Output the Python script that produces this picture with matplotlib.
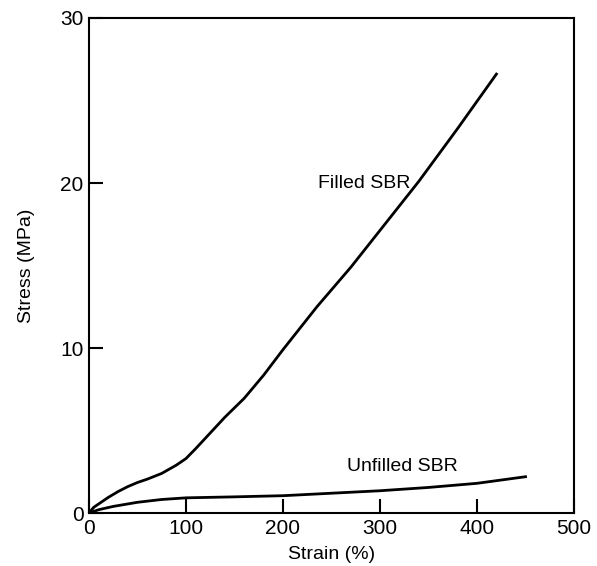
import matplotlib.pyplot as plt

plt.rcParams['font.family'] = ['Liberation Sans', 'DejaVu Sans']

# filled SBR stress-strain curve
filled_strain = [0, 5, 10, 20, 30, 40, 50, 60, 75, 90, 100, 110, 125, 140, 160,
                 180, 200, 235, 270, 305, 340, 380, 420]
filled_stress = [0, 0.35, 0.55, 0.95, 1.3, 1.6, 1.85, 2.05, 2.4, 2.9, 3.3, 3.9,
                 4.85, 5.8, 6.95, 8.35, 9.9, 12.5, 14.9, 17.5, 20.1, 23.3, 26.6]

# unfilled SBR
unfilled_strain = [0, 10, 25, 50, 75, 100, 150, 200, 250, 300, 350, 400, 450]
unfilled_stress = [0, 0.2, 0.4, 0.65, 0.82, 0.92, 0.98, 1.05, 1.2, 1.35, 1.55,
                   1.8, 2.2]

x_ticks = [0, 100, 200, 300, 400, 500]
y_ticks = [0, 10, 20, 30]

fig = plt.figure(figsize=(5.97, 5.66), dpi=100)
ax = fig.add_axes([0.149, 0.0936, 0.8125, 0.8746])

ax.plot(filled_strain, filled_stress, color='black', lw=2)
ax.plot(unfilled_strain, unfilled_stress, color='black', lw=2)

ax.text(236, 20, 'Filled SBR', fontsize=14, ha='left', va='center')
ax.text(266, 2.8, 'Unfilled SBR', fontsize=14, ha='left', va='center')

ax.set_xlim(0, 500)
ax.set_ylim(0, 30)
ax.set_xticks(x_ticks)
ax.set_yticks(y_ticks)
ax.tick_params(direction='in', length=10, width=1.5, labelsize=15, pad=4)
for s in ax.spines.values():
    s.set_linewidth(1.5)

ax.set_xlabel('Strain (%)', fontsize=14, labelpad=6)
ax.set_ylabel('Stress (MPa)', fontsize=14, labelpad=18)

fig.savefig('out.png', dpi=100)
